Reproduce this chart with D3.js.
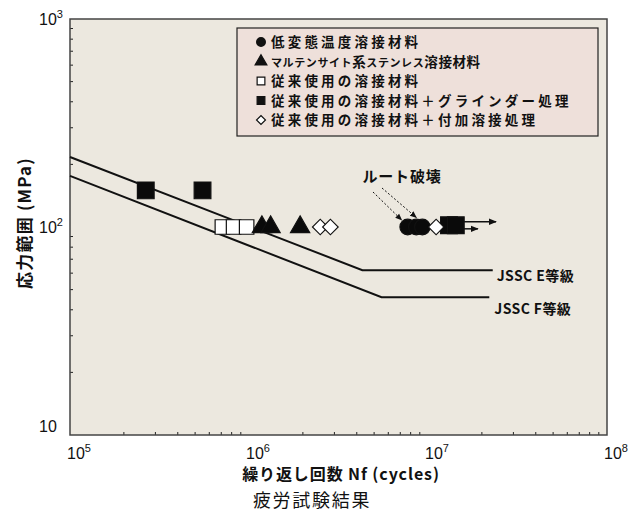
<!DOCTYPE html>
<html>
<head>
<meta charset="utf-8">
<script src="https://cdn.jsdelivr.net/npm/d3@7"></script>
<style>
  body { margin: 0; background: #fff; }
  text { font-family: "Noto Sans CJK JP", "Noto Sans", sans-serif; fill: #111; }
  .tick-label { font-family: "Liberation Sans", "DejaVu Sans", sans-serif; }
</style>
</head>
<body>
<script>
// legend labels (row 2 is split so the katakana can be set smaller, as in the original)
let categories = [
  "低変態温度溶接材料",
  "マルテンサイト系ステンレス溶接材料",
  "従来使用の溶接材料",
  "従来使用の溶接材料＋グラインダー処理",
  "従来使用の溶接材料＋付加溶接処理"
];
let row2Parts = ["マルテンサイト", "系", "ステンレス", "溶接材料"];
// test results (cycles, MPa)
let circleN = [7.7e6, 8.6e6, 9.3e6];
let circleS = [100, 100, 100];
let triangleN = [1.18e6, 1.32e6, 1.93e6];
let triangleS = [100, 100, 100];
let openSquareN = [7.1e5, 8.2e5, 9.7e5];
let openSquareS = [100, 100, 100];
let filledSquareN = [2.65e5, 5.5e5, 1.31e7, 1.43e7];
let filledSquareS = [150, 150, 102, 102];
let diamondN = [2.5e6, 2.85e6, 1.11e7];
let diamondS = [100, 100, 100];
// run-out arrows
let runoutFromN = [1.45e7, 1.45e7];
let runoutToN = [2.4e7, 1.9e7];
let runoutS = [106, 98];
// JSSC design curves
let classE_N = [1e5, 4.3e6, 2.3e7];
let classE_S = [217, 62, 62];
let classF_N = [1e5, 5.5e6, 2.2e7];
let classF_S = [176, 46, 46];
// ticks
let xTicks = [1e5, 1e6, 1e7, 1e8];
let xTickLabels = [["10", "5"], ["10", "6"], ["10", "7"], ["10", "8"]];
let yTicks = [10, 100, 1000];
let yTickLabels = [["10", ""], ["10", "2"], ["10", "3"]];

let margins = { left: 70, top: 19, right: 22, bottom: 78 };
let W = 629, H = 513;
let width = W - margins.left - margins.right, height = H - margins.top - margins.bottom;

let svg = d3.select("body").append("svg").attr("width", W).attr("height", H);

let xScale = d3.scaleLog().domain([1e5, 1e8]).range([margins.left, margins.left + width]);
let yScale = d3.scaleLog().domain([10, 1000]).range([margins.top + height, margins.top]);

// plot background
svg.append("rect")
  .attr("x", margins.left).attr("y", margins.top)
  .attr("width", width).attr("height", height)
  .attr("fill", "#ece8df");

// minor ticks (inward)
let minorX = [];
for (let e = 5; e < 8; e++) for (let k = 2; k <= 9; k++) minorX.push(k * Math.pow(10, e));
let minorY = [];
for (let e = 1; e < 3; e++) for (let k = 2; k <= 9; k++) minorY.push(k * Math.pow(10, e));

svg.append("g").selectAll("line").data(minorX).join("line")
  .attr("x1", d => xScale(d)).attr("x2", d => xScale(d))
  .attr("y1", margins.top + height).attr("y2", margins.top + height - 3)
  .attr("stroke", "#222").attr("stroke-width", 1);
svg.append("g").selectAll("line").data(minorY).join("line")
  .attr("x1", margins.left).attr("x2", margins.left + 3)
  .attr("y1", d => yScale(d)).attr("y2", d => yScale(d))
  .attr("stroke", "#222").attr("stroke-width", 1);

// frame
svg.append("rect")
  .attr("x", margins.left).attr("y", margins.top)
  .attr("width", width).attr("height", height)
  .attr("fill", "none").attr("stroke", "#444").attr("stroke-width", 1.5);

// tick labels
let xl = svg.append("g").selectAll("text").data(xTicks).join("text")
  .attr("class", "tick-label")
  .attr("x", d => xScale(d) - 3).attr("y", margins.top + height + 24)
  .attr("font-size", 16);
xl.append("tspan").text((d, i) => xTickLabels[i][0]);
xl.append("tspan").attr("dy", -7).attr("font-size", 11).text((d, i) => xTickLabels[i][1]);

let yl = svg.append("g").selectAll("text").data(yTicks).join("text")
  .attr("class", "tick-label")
  .attr("x", 39).attr("y", d => yScale(d) + (d === 10 ? -3 : 6))
  .attr("font-size", 16);
yl.append("tspan").text((d, i) => yTickLabels[i][0]);
yl.append("tspan").attr("dy", -7).attr("font-size", 11).text((d, i) => yTickLabels[i][1]);

// design curves
let lineGen = d3.line().x(d => xScale(d[0])).y(d => yScale(d[1]));
[[classE_N, classE_S], [classF_N, classF_S]].forEach(([n, s]) => {
  svg.append("path")
    .attr("d", lineGen(d3.zip(n, s)))
    .attr("fill", "none").attr("stroke", "#111").attr("stroke-width", 2);
});
svg.append("text").attr("x", xScale(classE_N[2]) + 4).attr("y", yScale(classE_S[2]) + 11)
  .attr("font-size", 14).attr("font-weight", "bold").attr("letter-spacing", 0.4).text("JSSC E等級");
svg.append("text").attr("x", xScale(classF_N[2]) + 5).attr("y", yScale(classF_S[2]) + 17)
  .attr("font-size", 14).attr("font-weight", "bold").attr("letter-spacing", 0.4).text("JSSC F等級");

// arrow markers
let defs = svg.append("defs");
defs.append("marker").attr("id", "arr").attr("viewBox", "0 0 10 10")
  .attr("refX", 9).attr("refY", 5).attr("markerWidth", 8).attr("markerHeight", 8)
  .attr("markerUnits", "userSpaceOnUse").attr("orient", "auto")
  .append("path").attr("d", "M0,1 L10,5 L0,9 Z").attr("fill", "#111");

// run-outs
svg.append("g").selectAll("line").data(runoutS).join("line")
  .attr("x1", (d, i) => xScale(runoutFromN[i])).attr("x2", (d, i) => xScale(runoutToN[i]))
  .attr("y1", d => yScale(d)).attr("y2", d => yScale(d))
  .attr("stroke", "#111").attr("stroke-width", 1.5).attr("marker-end", "url(#arr)");

// symbols (diamond = square turned 45 degrees)
function drawSymbols(ns, ss, type, size, filled, rot) {
  svg.append("g").selectAll("path").data(ns).join("path")
    .attr("transform", (d, i) => `translate(${xScale(d)},${yScale(ss[i])}) rotate(${rot || 0})`)
    .attr("d", d3.symbol().type(type).size(size))
    .attr("fill", filled ? "#0a0a0a" : "#fff")
    .attr("stroke", "#111").attr("stroke-width", 1.2);
}
drawSymbols(openSquareN, openSquareS, d3.symbolSquare, 210, false);
drawSymbols(filledSquareN, filledSquareS, d3.symbolSquare, 280, true);
drawSymbols(triangleN, triangleS, d3.symbolTriangle, 160, true);
drawSymbols(circleN, circleS, d3.symbolCircle, 190, true);
drawSymbols(diamondN, diamondS, d3.symbolSquare, 120, false, 45);

// root failure annotation
svg.append("text").attr("x", 402).attr("y", 182).attr("text-anchor", "middle")
  .attr("font-size", 15).attr("font-weight", "bold").attr("letter-spacing", 0.8).text("ルート破壊");
defs.append("marker").attr("id", "arrS").attr("viewBox", "0 0 10 10")
  .attr("refX", 9).attr("refY", 5).attr("markerWidth", 7).attr("markerHeight", 7)
  .attr("markerUnits", "userSpaceOnUse").attr("orient", "auto")
  .append("path").attr("d", "M0,1 L10,5 L0,9 Z").attr("fill", "#111");
[[373, 192, circleN[0], 108], [382, 188, circleN[2], 111]].forEach(([x0, y0, n, s]) => {
  svg.append("line")
    .attr("x1", x0).attr("y1", y0).attr("x2", xScale(n) - 6).attr("y2", yScale(s))
    .attr("stroke", "#111").attr("stroke-width", 1).attr("stroke-dasharray", "2,2")
    .attr("marker-end", "url(#arrS)");
});

// legend
let lg = svg.append("g").attr("transform", "translate(237,28)");
lg.append("rect").attr("width", 361).attr("height", 108)
  .attr("fill", "#eee0da").attr("stroke", "#222").attr("stroke-width", 1.2);
let legendTypes = [d3.symbolCircle, d3.symbolTriangle, d3.symbolSquare, d3.symbolSquare, d3.symbolSquare];
let legendFilled = [true, true, false, true, false];
let legendRot = [0, 0, 0, 0, 45];
let rows = lg.selectAll("g.row").data(categories).join("g").attr("class", "row")
  .attr("transform", (d, i) => `translate(0, ${14 + i * 19.5})`);
rows.append("path")
  .attr("transform", (d, i) => `translate(24,0) rotate(${legendRot[i]})`)
  .attr("d", (d, i) => d3.symbol().type(legendTypes[i]).size(legendRot[i] ? 40 : 60)())
  .attr("fill", (d, i) => legendFilled[i] ? "#111" : "#fff")
  .attr("stroke", "#111").attr("stroke-width", 1.2);
rows.filter((d, i) => i !== 1).append("text").attr("x", 34).attr("y", 5)
  .attr("font-size", 13.5).attr("font-weight", "bold")
  .attr("letter-spacing", 3.2)
  .text(d => d);
let row2 = rows.filter((d, i) => i === 1).append("text").attr("x", 34).attr("y", 5)
  .attr("font-weight", "bold").attr("letter-spacing", 0.6);
row2.selectAll("tspan").data(row2Parts).join("tspan")
  .attr("font-size", (d, i) => i % 2 === 0 ? 11 : 13.5)
  .text(d => d);

// axis titles
svg.append("text")
  .attr("transform", `translate(31, ${margins.top + height / 2 - 4}) rotate(-90)`)
  .attr("text-anchor", "middle").attr("font-size", 17).attr("font-weight", "bold")
  .attr("letter-spacing", 1.2)
  .text("応力範囲 (MPa)");
svg.append("text").attr("x", 341).attr("y", 480).attr("text-anchor", "middle")
  .attr("font-size", 16).attr("font-weight", "bold").attr("letter-spacing", 0.9)
  .text("繰り返し回数 Nf (cycles)");
svg.append("text").attr("x", 312).attr("y", 507).attr("text-anchor", "middle")
  .attr("font-size", 18).attr("letter-spacing", 1.7).text("疲労試験結果");
</script>
</body>
</html>
